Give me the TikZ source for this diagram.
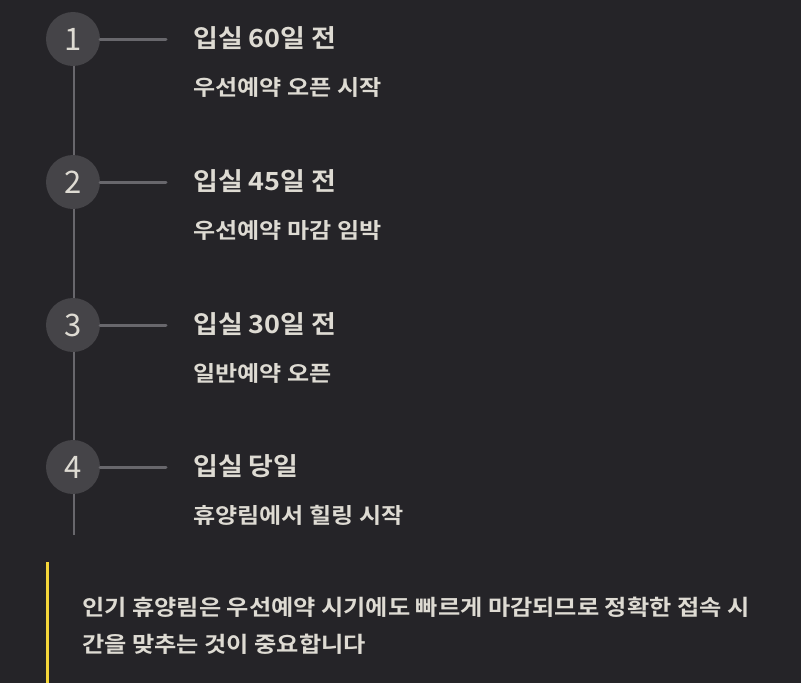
\documentclass[tikz,border=0pt]{standalone}
\usepackage{fontspec}
\setmainfont{Noto Sans CJK KR}
\newfontfamily\krbold[FakeStretch=1.08]{Noto Sans CJK KR Bold}
\newfontfamily\krboldw[FakeStretch=1.12]{Noto Sans CJK KR Bold}
\newfontfamily\krboldn[FakeStretch=1.11]{Noto Sans CJK KR Bold}
\definecolor{bgc}{HTML}{252428}
\definecolor{circc}{HTML}{454448}
\definecolor{linec}{HTML}{68676C}
\definecolor{txtc}{HTML}{DEDBD3}
\definecolor{barc}{HTML}{F5D63A}
\begin{document}
\begin{tikzpicture}[x=1pt,y=-1pt,
  stepcirc/.style={circle,fill=circc,minimum size=54pt,inner sep=0pt,text=txtc,font=\fontsize{31}{31}\selectfont},
  title/.style={anchor=base west,inner sep=0pt,text=txtc,font=\krbold\fontsize{25}{25}\selectfont},
  sub/.style={anchor=base west,inner sep=0pt,text=txtc,font=\krboldw\fontsize{21.5}{21.5}\selectfont},
  note/.style={anchor=base west,inner sep=0pt,text=txtc,font=\krboldn\fontsize{21.8}{21.8}\selectfont},
  conn/.style={draw=linec,line width=3pt,line cap=round},
  vline/.style={draw=linec,line width=2.5pt}]
\fill[bgc] (0,0) rectangle (801,683);
\useasboundingbox (0,0) rectangle (801,683);
\coordinate (top) at (74,40);
\coordinate (bot) at (74,535);
\draw[vline] (top) -- (bot);
\foreach \i/\y/\t/\s in {1/39/입실 60일 전/우선예약 오픈 시작,2/182/입실 45일 전/우선예약 마감 임박,3/325/입실 30일 전/일반예약 오픈,4/467/입실 당일/휴양림에서 힐링 시작}{
  \node[stepcirc] (c\i) at (73,\y) {\i};
  \coordinate (e\i) at (166,\y);
  \draw[conn] (c\i.east) -- (e\i);
  \node[title] (t\i) at (193,\y+8) {\t};
  \node[sub] (s\i) at (193,\y+56) {\s};
}
\coordinate (b1) at (47,562);
\coordinate (b2) at (47,683);
\draw[draw=barc,line width=3pt] (b1) -- (b2);
\node[note] (n1) at (82,615) {인기 휴양림은 우선예약 시기에도 빠르게 마감되므로 정확한 접속 시};
\node[note] (n2) at (82,652) {간을 맞추는 것이 중요합니다};
\end{tikzpicture}
\end{document}
